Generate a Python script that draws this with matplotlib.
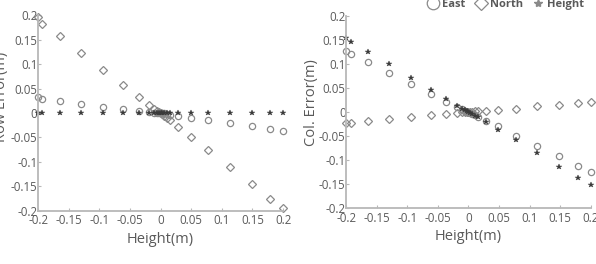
import matplotlib
matplotlib.use("Agg")
import matplotlib.pyplot as plt

plt.rcParams['font.family'] = ['Open Sans', 'DejaVu Sans']

# shared x positions (height offsets, m)
height = [-0.2, -0.193, -0.164, -0.130, -0.094, -0.061, -0.036, -0.019, -0.010, -0.006,
          -0.003, 0.0, 0.003, 0.006, 0.010, 0.015, 0.028, 0.049, 0.078, 0.113,
          0.149, 0.179, 0.2]

# row errors (left panel)
row_east = [0.032, 0.029, 0.025, 0.019, 0.013, 0.0085, 0.0045, 0.002, 0.001, 0.0005,
            0.0002, 0.0, -0.0005, -0.001, -0.002, -0.004, -0.006, -0.010, -0.015, -0.020,
            -0.027, -0.032, -0.036]
row_north = [0.197, 0.182, 0.157, 0.123, 0.088, 0.058, 0.033, 0.017, 0.009, 0.005,
             0.002, 0.0, -0.003, -0.006, -0.010, -0.014, -0.028, -0.049, -0.076, -0.110,
             -0.145, -0.176, -0.195]
row_height = [0.0, 0.0, 0.0, 0.0, 0.0, 0.0, 0.0, 0.0, 0.0, 0.0,
              0.0, 0.0, 0.0, 0.0, 0.0, 0.0, 0.0, 0.0, 0.0, 0.0,
              0.0, 0.0, 0.0]

# column errors (right panel)
col_east = [0.128, 0.121, 0.104, 0.082, 0.059, 0.038, 0.022, 0.010, 0.006, 0.003,
            0.001, 0.0, -0.002, -0.004, -0.007, -0.010, -0.018, -0.030, -0.050, -0.070,
            -0.092, -0.113, -0.125]
col_north = [-0.022, -0.022, -0.019, -0.015, -0.011, -0.0066, -0.004, -0.001, -0.0005, -0.0003,
             0.0, 0.0, 0.0005, 0.001, 0.0015, 0.002, 0.003, 0.005, 0.007, 0.012,
             0.015, 0.019, 0.022]
col_height = [0.155, 0.145, 0.126, 0.100, 0.072, 0.047, 0.027, 0.0135, 0.007, 0.004,
              0.002, 0.0, -0.002, -0.005, -0.008, -0.011, -0.020, -0.037, -0.059, -0.086,
              -0.115, -0.137, -0.152]

ticks = [-0.2, -0.15, -0.1, -0.05, 0, 0.05, 0.1, 0.15, 0.2]
tick_labels = ['-0.2', '-0.15', '-0.1', '-0.05', '0', '0.05', '0.1', '0.15', '0.2']

spine_c = '#b8b8b8'
text_c = '#5a5a5a'
open_c = '#8a8a8a'
star_c = '#3a3a3a'


def style_axes(ax, ylabel):
    ax.set_xlim(-0.2, 0.2)
    ax.set_ylim(-0.2, 0.2)
    ax.set_xticks(ticks)
    ax.set_xticklabels(tick_labels)
    ax.set_yticks(ticks)
    ax.set_yticklabels(tick_labels)
    for s in ['top', 'right']:
        ax.spines[s].set_visible(False)
    for s in ['left', 'bottom']:
        ax.spines[s].set_color(spine_c)
        ax.spines[s].set_linewidth(1.3)
    ax.tick_params(direction='in', length=2, width=0.8, color=spine_c,
                   labelsize=8.3, labelcolor=text_c, pad=2.5)
    ax.tick_params(axis='y', pad=0.5)
    ax.set_xlabel('Height(m)', fontsize=10.5, color=text_c, labelpad=3)
    ax.set_ylabel(ylabel, fontsize=10.5, color=text_c, labelpad=0)


def draw(ax, east, north, hgt):
    kw = dict(linestyle='none', clip_on=False)
    ax.plot(height, east, marker='o', markersize=4.5, markerfacecolor='none',
            markeredgecolor=open_c, markeredgewidth=0.9, label='East', **kw)
    ax.plot(height, north, marker='D', markersize=4, markerfacecolor='none',
            markeredgecolor=open_c, markeredgewidth=0.9, label='North', **kw)
    ax.plot(height, hgt, marker='*', markersize=3.8, color=star_c,
            markeredgewidth=0.3, label='Height', **kw)


fig = plt.figure(figsize=(5.96, 2.64), dpi=100)
ax1 = fig.add_axes([0.064, 0.201, 0.411, 0.742])
ax2 = fig.add_axes([0.581, 0.212, 0.410, 0.727])

draw(ax1, row_east, row_north, row_height)
style_axes(ax1, 'Row Error(m)')
ax1.yaxis.set_label_coords(-0.118, 0.58)

draw(ax2, col_east, col_north, col_height)
style_axes(ax2, 'Col. Error(m)')
ax2.yaxis.set_label_coords(-0.11, 0.55)

handles = [
    plt.Line2D([], [], linestyle='none', marker='o', markersize=9, markerfacecolor='none',
               markeredgecolor=open_c, markeredgewidth=0.9),
    plt.Line2D([], [], linestyle='none', marker='D', markersize=7, markerfacecolor='none',
               markeredgecolor=open_c, markeredgewidth=0.9),
    plt.Line2D([], [], linestyle='none', marker='*', markersize=6, color=open_c),
]
leg = fig.legend(handles, ['East', 'North', 'Height'], loc='center', ncol=3,
                 bbox_to_anchor=(0.848, 0.982), frameon=False, fontsize=8,
                 handletextpad=0.2, columnspacing=0.8, handlelength=1.2, borderpad=0)
for t in leg.get_texts():
    t.set_color(text_c)
    t.set_fontweight('bold')

fig.savefig('out.png', dpi=100)
